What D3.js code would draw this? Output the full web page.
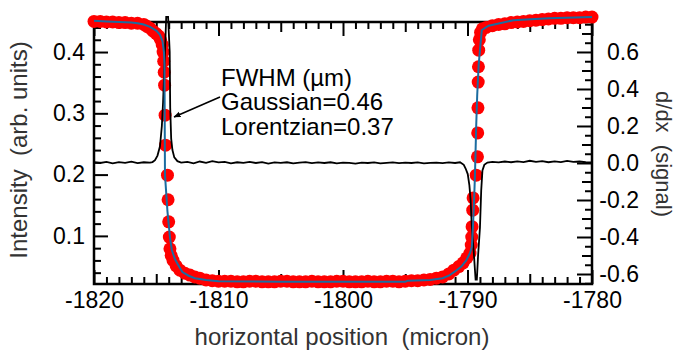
<!DOCTYPE html>
<html>
<head>
<meta charset="utf-8">
<script src="https://cdn.jsdelivr.net/npm/d3@7"></script>
<style>
  body { margin: 0; background: #fff; }
  text { font-family: "Liberation Sans", Arial, Helvetica, sans-serif; }
</style>
</head>
<body>
<svg id="chart" width="678" height="353"></svg>
<script>
// tick labels
const xTicks = [-1820, -1810, -1800, -1790, -1780];
const leftTicks = [0.1, 0.2, 0.3, 0.4];
const rightTicks = [-0.6, -0.4, -0.2, 0.0, 0.2, 0.4, 0.6];

// measured intensity (red dots): [position um, intensity]
const intensity = [
  [-1820, 0.450], [-1819.5, 0.450], [-1819, 0.449], [-1818.5, 0.449], [-1818, 0.448],
  [-1817.5, 0.448], [-1817, 0.447], [-1816.5, 0.447], [-1816, 0.445], [-1815.75, 0.442],
  [-1815.5, 0.439], [-1815.25, 0.434], [-1815, 0.430], [-1814.8, 0.426], [-1814.65, 0.420],
  [-1814.52, 0.412], [-1814.45, 0.400], [-1814.4, 0.385], [-1814.36, 0.367], [-1814.33, 0.346],
  [-1814.29, 0.297], [-1814.25, 0.248], [-1814.1, 0.199], [-1814.05, 0.159], [-1814.0, 0.123],
  [-1813.95, 0.098], [-1813.9, 0.079], [-1813.8, 0.068], [-1813.65, 0.060], [-1813.4, 0.051],
  [-1813.1, 0.044], [-1812.7, 0.039], [-1812.3, 0.036], [-1811.9, 0.033], [-1811.5, 0.031],
  [-1811, 0.028], [-1810.5, 0.027], [-1810, 0.026], [-1809.5, 0.026], [-1809, 0.026],
  [-1808.5, 0.025], [-1808, 0.025], [-1807.5, 0.026], [-1807, 0.026], [-1806.5, 0.025],
  [-1806, 0.025], [-1805.5, 0.025], [-1805, 0.026], [-1804.5, 0.026], [-1804, 0.025],
  [-1803.5, 0.025], [-1803, 0.025], [-1802.5, 0.026], [-1802, 0.025], [-1801.5, 0.025],
  [-1801, 0.025], [-1800.5, 0.026], [-1800, 0.026], [-1799.5, 0.025], [-1799, 0.025],
  [-1798.5, 0.025], [-1798, 0.026], [-1797.5, 0.025], [-1797, 0.025], [-1796.5, 0.026],
  [-1796, 0.026], [-1795.5, 0.025], [-1795, 0.026], [-1794.5, 0.027], [-1794, 0.027],
  [-1793.5, 0.028], [-1793, 0.029], [-1792.5, 0.031], [-1792, 0.033], [-1791.5, 0.038],
  [-1791.1, 0.044], [-1790.7, 0.050], [-1790.35, 0.056], [-1790.05, 0.064], [-1789.8, 0.072],
  [-1789.7, 0.085], [-1789.66, 0.098], [-1789.63, 0.115], [-1789.58, 0.142], [-1789.55, 0.162],
  [-1789.3, 0.199], [-1789.2, 0.229], [-1789.18, 0.268], [-1789.16, 0.309], [-1789.14, 0.351],
  [-1789.12, 0.376], [-1789.1, 0.403], [-1789.05, 0.420], [-1788.95, 0.432], [-1788.8, 0.438],
  [-1788.5, 0.440], [-1788, 0.443], [-1787.5, 0.445], [-1787, 0.446], [-1786.5, 0.448],
  [-1786, 0.449], [-1785.5, 0.450], [-1785, 0.451], [-1784.5, 0.452], [-1784, 0.453],
  [-1783.5, 0.454], [-1783, 0.455], [-1782.5, 0.455], [-1782, 0.456], [-1781.5, 0.456],
  [-1781, 0.456], [-1780.5, 0.457], [-1780, 0.457]
];

// fitted profile (blue line)
const fit = [
  [-1820, 0.451], [-1819, 0.450], [-1818, 0.449], [-1817, 0.448], [-1816.5, 0.447],
  [-1816, 0.445], [-1815.5, 0.441], [-1815, 0.435], [-1814.7, 0.428], [-1814.5, 0.418],
  [-1814.38, 0.400], [-1814.34, 0.380], [-1814.3, 0.200], [-1814.1, 0.140], [-1813.9, 0.098],
  [-1813.75, 0.077], [-1813.5, 0.062], [-1813.25, 0.053], [-1812.9, 0.041], [-1812.4, 0.035],
  [-1811.9, 0.031], [-1811, 0.028], [-1810, 0.026], [-1805, 0.025], [-1800, 0.025],
  [-1795, 0.025], [-1794.8, 0.027], [-1793, 0.028], [-1792, 0.031], [-1791.5, 0.035],
  [-1791, 0.042], [-1790.5, 0.050], [-1790.1, 0.060], [-1789.8, 0.072], [-1789.65, 0.082],
  [-1789.55, 0.120], [-1789.45, 0.170], [-1789.4, 0.200], [-1789.3, 0.280], [-1789.22, 0.330],
  [-1789.1, 0.380], [-1789.0, 0.403], [-1788.85, 0.436], [-1788.3, 0.443], [-1786.3, 0.452],
  [-1783.5, 0.455], [-1780, 0.457]
];

// derivative signal (black line, right axis)
const deriv = [
  [-1820, 0.004], [-1819.5, 0.000], [-1819, 0.006], [-1818.5, -0.002], [-1818, 0.005],
  [-1817.5, 0.001], [-1817, 0.007], [-1816.5, -0.001], [-1816, 0.004], [-1815.5, 0.002],
  [-1815.3, 0.005], [-1815.1, 0.015], [-1814.9, 0.040], [-1814.7, 0.090], [-1814.55, 0.200],
  [-1814.45, 0.330], [-1814.3, 0.600], [-1814.2, 0.790], [-1814.05, 0.790], [-1813.92, 0.600],
  [-1813.88, 0.300], [-1813.8, 0.130], [-1813.7, 0.070], [-1813.55, 0.030], [-1813.3, 0.010],
  [-1813.0, 0.002], [-1812.5, 0.006], [-1812, -0.002], [-1811.5, 0.008], [-1811, 0.001],
  [-1810.5, 0.010], [-1810, 0.003], [-1809.5, 0.006], [-1809, -0.002], [-1808.5, 0.004],
  [-1808, 0.001], [-1807.5, 0.006], [-1807, 0.000], [-1806.5, 0.005], [-1806, -0.003],
  [-1805.5, 0.003], [-1805, 0.001], [-1804.5, 0.004], [-1804, -0.002], [-1803.5, 0.002],
  [-1803, 0.005], [-1802.5, -0.001], [-1802, 0.003], [-1801.5, 0.000], [-1801, 0.004],
  [-1800.5, -0.002], [-1800, 0.002], [-1799.5, 0.001], [-1799, -0.003], [-1798.5, 0.002],
  [-1798, 0.000], [-1797.5, 0.003], [-1797, -0.002], [-1796.5, 0.001], [-1796, 0.003],
  [-1795.5, -0.001], [-1795, 0.002], [-1794.5, 0.000], [-1794, 0.003], [-1793.5, -0.002],
  [-1793, 0.001], [-1792.5, 0.002], [-1792, -0.001], [-1791.5, 0.003], [-1791, 0.000],
  [-1790.6, 0.004], [-1790.3, -0.010], [-1790.15, -0.030], [-1789.98, -0.060], [-1789.85, -0.120],
  [-1789.75, -0.200], [-1789.65, -0.350], [-1789.5, -0.480], [-1789.35, -0.630], [-1789.25, -0.630],
  [-1789.15, -0.500], [-1789.0, -0.350], [-1788.9, -0.150], [-1788.8, -0.040], [-1788.65, -0.010],
  [-1788.4, 0.002], [-1788, 0.006], [-1787.5, 0.003], [-1787, 0.008], [-1786.5, 0.004],
  [-1786, 0.009], [-1785.5, 0.005], [-1785, 0.012], [-1784.5, 0.006], [-1784, 0.010],
  [-1783.5, 0.004], [-1783, 0.009], [-1782.5, 0.005], [-1782, 0.011], [-1781.5, 0.006],
  [-1781, 0.008], [-1780.5, 0.004], [-1780, 0.003]
];

const noteLines = ["FWHM (\u00b5m)", "Gaussian=0.46", "Lorentzian=0.37"];

const svg = d3.select("#chart");
const plotL = 94, plotR = 592, plotT = 22, plotB = 284;

const x = d3.scaleLinear().domain([-1820, -1780]).range([plotL, plotR]);
const yL = d3.scaleLinear().domain([0.0215, 0.449]).range([plotB, plotT]);
const yR = d3.scaleLinear().domain([-0.654, 0.762]).range([plotB, plotT]);

function ticks(axis, tr, vals, size, fmt, pad) {
  const g = svg.append("g")
    .attr("transform", tr)
    .call(axis.tickValues(vals).tickSize(size).tickPadding(pad || 0).tickFormat(fmt || (() => "")));
  g.select(".domain").remove();
  g.selectAll("line").attr("stroke", "#000").attr("stroke-width", 2);
  g.attr("font-size", 23);
  g.selectAll("text").attr("fill", "#000");
  return g;
}

const xMinor = d3.range(-1819, -1780, 1).filter(v => v % 5 !== 0);
const xMid = [-1815, -1805, -1795, -1785];

// bottom + top
ticks(d3.axisBottom(x), `translate(0,${plotB})`, xTicks, -14, d => String(d), 8);
ticks(d3.axisBottom(x), `translate(0,${plotB})`, xMid, -10);
ticks(d3.axisBottom(x), `translate(0,${plotB})`, xMinor, -7);
ticks(d3.axisTop(x), `translate(0,${plotT})`, xTicks, -14);
ticks(d3.axisTop(x), `translate(0,${plotT})`, xMid, -10);
ticks(d3.axisTop(x), `translate(0,${plotT})`, xMinor, -7);

// left
const lMinor = d3.range(0.04, 0.45, 0.02).filter(v => Math.abs(v * 10 - Math.round(v * 10)) > 1e-6);
ticks(d3.axisLeft(yL), `translate(${plotL},0)`, leftTicks, -14, d => d.toFixed(1), 9);
ticks(d3.axisLeft(yL), `translate(${plotL},0)`, lMinor, -7);

// right
const rMid = [-0.5, -0.3, -0.1, 0.1, 0.3, 0.5, 0.7];
const rMinor = d3.range(-0.65, 0.76, 0.05).filter(v => Math.abs(v * 10 - Math.round(v * 10)) > 1e-6);
const rg = ticks(d3.axisRight(yR), `translate(${plotR},0)`, rightTicks, -15, d => d.toFixed(1), 15);
rg.selectAll("text").attr("text-anchor", "end").attr("x", 47);
ticks(d3.axisRight(yR), `translate(${plotR},0)`, rMid, -10);
ticks(d3.axisRight(yR), `translate(${plotR},0)`, rMinor, -7);

svg.append("rect")
  .attr("x", plotL).attr("y", plotT)
  .attr("width", plotR - plotL).attr("height", plotB - plotT)
  .attr("fill", "none").attr("stroke", "#000").attr("stroke-width", 2.5);

// red dots
svg.append("g")
  .selectAll("circle")
  .data(intensity)
  .enter().append("circle")
  .attr("cx", d => x(d[0]))
  .attr("cy", d => yL(d[1]))
  .attr("r", 6.5)
  .attr("fill", "#ff0000");

svg.append("path")
  .datum(deriv)
  .attr("fill", "none")
  .attr("stroke", "#000")
  .attr("stroke-width", 1.8)
  .attr("d", d3.line().x(d => x(d[0])).y(d => yR(d[1])));

svg.append("path")
  .datum(fit)
  .attr("fill", "none")
  .attr("stroke", "#1b6ca0")
  .attr("stroke-width", 2)
  .attr("d", d3.line().x(d => x(d[0])).y(d => yL(d[1])));

// annotation
svg.append("defs").append("marker")
  .attr("id", "head")
  .attr("viewBox", "0 0 10 10")
  .attr("refX", 9).attr("refY", 5)
  .attr("markerWidth", 4.5).attr("markerHeight", 4.5)
  .attr("orient", "auto")
  .append("path").attr("d", "M0,1L10,5L0,9z").attr("fill", "#000");

svg.append("line")
  .attr("x1", x(-1809.88)).attr("y1", yR(0.357))
  .attr("x2", x(-1813.57)).attr("y2", yR(0.249))
  .attr("stroke", "#000").attr("stroke-width", 1.6)
  .attr("marker-end", "url(#head)");

svg.append("g")
  .selectAll("text")
  .data(noteLines)
  .enter().append("text")
  .attr("x", x(-1809.8))
  .attr("y", (d, i) => yL(0.345 - i * 0.04))
  .attr("font-size", 24)
  .text(d => d);

// axis titles
svg.append("text")
  .attr("transform", `translate(27,150) rotate(-90)`)
  .attr("text-anchor", "middle")
  .attr("font-size", 24)
  .attr("fill", "#333")
  .style("white-space", "pre")
  .text("Intensity  (arb. units)");

svg.append("text")
  .attr("x", 342).attr("y", 345)
  .attr("text-anchor", "middle")
  .attr("font-size", 24)
  .attr("fill", "#333")
  .style("white-space", "pre")
  .text("horizontal position  (micron)");

svg.append("text")
  .attr("transform", `translate(656,154) rotate(90)`)
  .attr("text-anchor", "middle")
  .attr("font-size", 22)
  .attr("fill", "#333")
  .style("white-space", "pre")
  .text("d/dx  (signal)");
</script>
</body>
</html>
